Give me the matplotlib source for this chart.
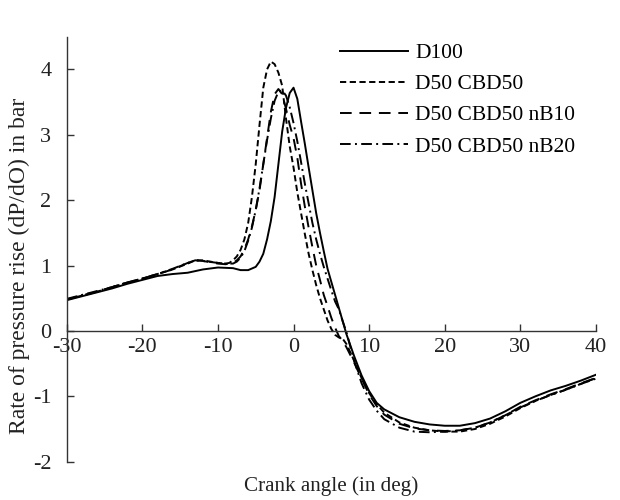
import matplotlib
matplotlib.use("Agg")
import matplotlib.pyplot as plt

plt.rcParams['font.family'] = ['Liberation Serif', 'DejaVu Serif']
plt.rcParams['axes.unicode_minus'] = False

# D100 (solid)
x_d100 = [-30, -28, -26, -24, -22, -20, -18, -16, -14, -12, -10, -8, -7, -6, -5, -4.5, -4, -3.5,
          -3, -2.5, -2, -1.5, -1, -0.5, 0, 0.5, 1, 1.5, 2, 2.5, 3, 3.5, 4, 4.5, 5, 5.5, 6, 6.5, 7,
          8, 9, 10, 11, 12, 14, 16, 18, 20, 22, 24, 26, 28, 30, 32, 34, 36, 38, 40]
y_d100 = [0.47, 0.53, 0.59, 0.65, 0.72, 0.78, 0.84, 0.87, 0.89, 0.94, 0.97, 0.96, 0.93, 0.93, 0.98, 1.06, 1.18, 1.40,
          1.68, 2.05, 2.55, 3.05, 3.41, 3.64, 3.72, 3.55, 3.20, 2.86, 2.50, 2.15, 1.80, 1.50, 1.22, 0.95, 0.75, 0.55, 0.35, 0.15, -0.05,
          -0.38, -0.68, -0.92, -1.10, -1.20, -1.32, -1.39, -1.43, -1.45, -1.45, -1.41, -1.34, -1.23, -1.10, -1.00, -0.91, -0.84, -0.76, -0.67]

# the three blends share one angle grid
x_blend = [-30, -28, -26, -24, -22, -20, -18, -16, -14, -13, -12, -10, -9, -8.5, -8, -7.5, -7, -6.5, -6, -5.5,
           -5, -4.5, -4, -3.5, -3, -2.5, -2, -1.5, -1, -0.5, 0, 0.5, 1, 1.5, 2, 2.5, 3, 3.5, 4, 4.5,
           5, 5.5, 6, 6.5, 7, 8, 9, 10, 11, 12, 14, 16, 18, 20, 22, 24, 26, 28, 30, 32, 34, 36, 38, 40]
y_cbd50 = [0.48, 0.54, 0.60, 0.67, 0.74, 0.80, 0.87, 0.94, 1.03, 1.08, 1.08, 1.04, 1.03, 1.04, 1.08, 1.14, 1.24, 1.40, 1.65, 2.05,
           2.55, 3.15, 3.72, 4.00, 4.12, 4.08, 3.95, 3.75, 3.25, 2.82, 2.50, 2.12, 1.80, 1.48, 1.18, 0.93, 0.70, 0.50, 0.33, 0.16,
           0.03, -0.06, -0.10, -0.12, -0.20, -0.45, -0.72, -0.95, -1.12, -1.25, -1.40, -1.48, -1.52, -1.54, -1.54, -1.50, -1.42, -1.31, -1.18, -1.07, -0.98, -0.90, -0.81, -0.72]
y_nb10 = [0.48, 0.54, 0.60, 0.67, 0.74, 0.80, 0.87, 0.94, 1.04, 1.08, 1.07, 1.03, 1.02, 1.03, 1.04, 1.08, 1.14, 1.25, 1.40, 1.60,
          1.85, 2.15, 2.55, 2.95, 3.35, 3.62, 3.70, 3.62, 3.40, 3.15, 2.95, 2.65, 2.25, 1.90, 1.58, 1.28, 1.00, 0.78, 0.55, 0.38,
          0.20, 0.05, -0.08, -0.15, -0.25, -0.48, -0.73, -0.97, -1.15, -1.28, -1.42, -1.49, -1.52, -1.53, -1.52, -1.48, -1.40, -1.29, -1.16, -1.06, -0.97, -0.89, -0.80, -0.72]
y_nb20 = [0.49, 0.55, 0.61, 0.67, 0.74, 0.80, 0.87, 0.95, 1.04, 1.08, 1.07, 1.04, 1.03, 1.03, 1.03, 1.06, 1.12, 1.22, 1.38, 1.58,
          1.85, 2.18, 2.55, 2.92, 3.25, 3.52, 3.66, 3.68, 3.60, 3.42, 3.18, 2.90, 2.58, 2.25, 1.95, 1.65, 1.40, 1.18, 0.98, 0.80,
          0.62, 0.45, 0.33, 0.15, -0.02, -0.45, -0.80, -1.05, -1.22, -1.35, -1.48, -1.54, -1.55, -1.54, -1.52, -1.48, -1.40, -1.29, -1.17, -1.07, -0.98, -0.90, -0.81, -0.73]

labels = ['D100', 'D50 CBD50', 'D50 CBD50 nB10', 'D50 CBD50 nB20']
x_ticks = [-30, -20, -10, 0, 10, 20, 30, 40]
y_ticks = [-2, -1, 0, 1, 2, 3, 4]

fig = plt.figure(figsize=(6.2, 5.0), dpi=100)
ax = fig.add_axes([0.1076, 0.0766, 0.8536, 0.85])

lw = 1.4
ax.plot(x_d100, y_d100, color='black', lw=lw, label=labels[0])
ax.plot(x_blend, y_cbd50, color='black', lw=lw, dashes=(3.2, 1.8), label=labels[1])
ax.plot(x_blend, y_nb10, color='black', lw=lw, dashes=(6.0, 4.0), label=labels[2])
ax.plot(x_blend, y_nb20, color='black', lw=lw, dashes=(5.5, 2.2, 1.0, 2.2), label=labels[3])

ax.set_xlim(-30, 40)
ax.set_ylim(-2, 4.5)
ax.spines['top'].set_visible(False)
ax.spines['right'].set_visible(False)
ax.spines['bottom'].set_position(('data', 0))
ax.spines['left'].set_bounds(-2, 4.5)
for s in ('left', 'bottom'):
    ax.spines[s].set_linewidth(1.0)
    ax.spines[s].set_color('#333333')

ax.set_xticks(x_ticks)
ax.set_yticks(y_ticks)
ax.tick_params(axis='both', direction='in', length=5, width=1.0, colors='#333333',
               labelsize=16, labelcolor='#222222')
ax.tick_params(axis='x', pad=5)
ax.tick_params(axis='y', pad=11)

ax.set_xlabel('Crank angle (in deg)', fontsize=15.2, color='#222222')
ax.xaxis.set_label_coords(0.5, -0.035)
ax.set_ylabel('Rate of pressure rise (dP/dO) in bar', fontsize=17, color='#222222')
ax.yaxis.set_label_coords(-0.07, 0.46)

ax.legend(loc='upper left', bbox_to_anchor=(0.48, 1.03), frameon=False, fontsize=15.5,
          handlelength=3.15, labelspacing=0.51, handletextpad=0.35)

fig.savefig('out.png', dpi=100)
